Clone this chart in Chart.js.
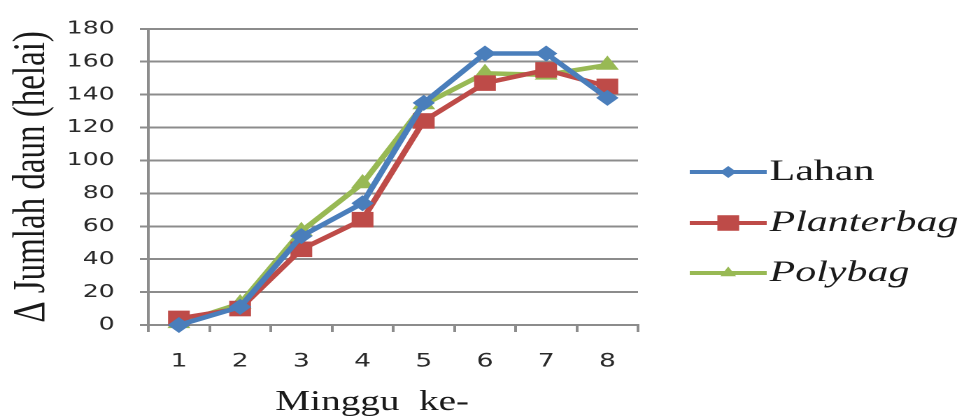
<!DOCTYPE html>
<html>
<head>
<meta charset="utf-8">
<script src="https://cdn.jsdelivr.net/npm/chart.js@4.4.0/dist/chart.umd.min.js"></script>
<style>
  html, body { margin: 0; padding: 0; background: #fff; overflow: hidden; }
  /* the figure is laid out narrow and widened horizontally */
  #wrap { width: 694px; height: 419px; transform: scaleX(1.3991); transform-origin: 0 0; }
</style>
</head>
<body>
<div id="wrap"><canvas id="c" width="694" height="419"></canvas></div>
<script>
// Minggu ke- (week number)
const minggu = ['1', '2', '3', '4', '5', '6', '7', '8'];
// Δ jumlah daun (helai) per media
const lahan      = [0, 11, 54, 74, 135, 165, 165, 138];
const planterbag = [4, 10, 46, 64, 124, 147, 155, 145];
const polybag    = [1, 13, 57, 86, 134, 153, 152, 158];
const seriesNames = ['Lahan', 'Planterbag', 'Polybag'];
const xTitle = 'Minggu  ke-';
const yTitle = 'Δ Jumlah daun (helai)';

const BLUE = '#4A7EBB', RED = '#BE4B48', GREEN = '#98B954';
const GRID = '#8c8c8c';
const TEXT = '#1a1a1a';

// legend drawn to the right of the plot, with per-item font style,
// plus the x-axis title set a little left of the plot centre
const sideLegend = {
  id: 'sideLegend',
  afterDraw(chart) {
    const ctx = chart.ctx;
    const area = chart.chartArea;
    const x0 = area.right + 37, x1 = area.right + 92, xm = (x0 + x1) / 2;
    const rows = [172, 223, 273];
    chart.data.datasets.forEach((ds, i) => {
      const y = rows[i];
      ctx.save();
      ctx.strokeStyle = ds.borderColor;
      ctx.lineWidth = 4;
      ctx.beginPath();
      ctx.moveTo(x0, y);
      ctx.lineTo(x1, y);
      ctx.stroke();
      ctx.fillStyle = ds.borderColor;
      Chart.helpers.drawPoint(ctx, {
        pointStyle: ds.pointStyle, radius: ds.legendRadius, rotation: 0, borderWidth: 0
      }, xm, y);
      ctx.fillStyle = TEXT;
      ctx.font = (ds.italic ? 'italic ' : '') + '30px "Liberation Serif"';
      ctx.textBaseline = 'alphabetic';
      ctx.textAlign = 'left';
      ctx.fillText(ds.label, x1 + 2, y + 8);
      ctx.restore();
    });

    ctx.save();
    ctx.fillStyle = TEXT;
    ctx.font = '28px "Liberation Serif"';
    ctx.textAlign = 'center';
    ctx.textBaseline = 'alphabetic';
    ctx.fillText(xTitle, (area.left + area.right) / 2 - 15, 410);
    ctx.restore();
  }
};

new Chart(document.getElementById('c'), {
  type: 'line',
  data: {
    labels: minggu,
    datasets: [
      { label: seriesNames[0], data: lahan, borderColor: BLUE, backgroundColor: BLUE,
        pointStyle: 'rectRot', pointRadius: 8, legendRadius: 6, italic: false },
      { label: seriesNames[1], data: planterbag, borderColor: RED, backgroundColor: RED,
        pointStyle: 'rect', pointRadius: 11, legendRadius: 11, italic: true },
      { label: seriesNames[2], data: polybag, borderColor: GREEN, backgroundColor: GREEN,
        pointStyle: 'triangle', pointRadius: 9.5, legendRadius: 6.5, italic: true }
    ].map(d => Object.assign({
      borderWidth: 4.5, tension: 0, pointBorderWidth: 0, pointHoverRadius: 0, clip: false
    }, d))
  },
  options: {
    responsive: false,
    animation: false,
    devicePixelRatio: 2,
    layout: { padding: { top: 20, right: 238, bottom: 0, left: 0 } },
    plugins: { legend: { display: false }, tooltip: { enabled: false } },
    scales: {
      x: {
        offset: true,
        grid: { offset: true, drawOnChartArea: false, color: GRID, lineWidth: 2, tickLength: 7 },
        border: { color: GRID, width: 2 },
        ticks: { font: { family: 'DejaVu Sans', size: 19 }, color: '#2a2a2a', padding: 18 },
        afterFit(s) { s.height = 94; }
      },
      y: {
        min: 0, max: 180,
        grid: { color: GRID, lineWidth: 2, tickLength: 6 },
        border: { color: GRID, width: 2 },
        ticks: { stepSize: 20, font: { family: 'DejaVu Sans', size: 18 }, color: '#2a2a2a', padding: 18 },
        title: { display: true, text: yTitle, color: TEXT,
                 font: { family: 'Liberation Serif', size: 33 }, padding: { top: 3, bottom: 0 } },
        afterFit(s) { s.width = 106; }
      }
    }
  },
  plugins: [sideLegend]
});
</script>
</body>
</html>
